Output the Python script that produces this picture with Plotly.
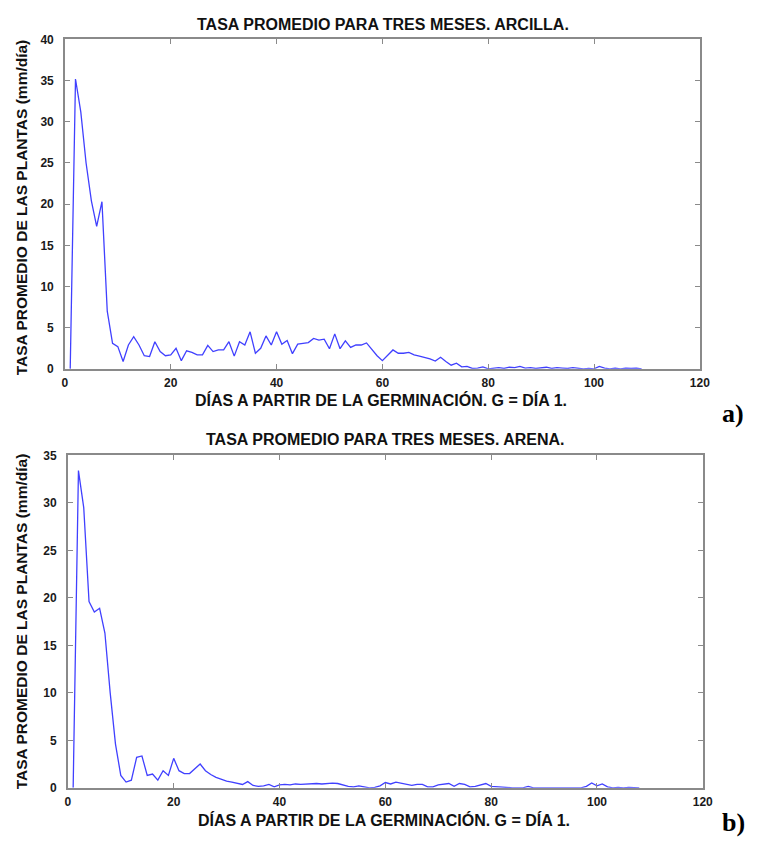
import plotly.graph_objects as go

# Daily mean growth rate (mm/día), three-month average
dias_arcilla = list(range(1, 110))
tasa_arcilla = [
    0.0, 35.2, 31.2, 25.0, 20.4, 17.3, 20.3, 7.0, 3.1, 2.7,
    0.9, 2.9, 3.9, 2.9, 1.6, 1.5, 3.3, 2.1, 1.6, 1.7,
    2.5, 1.0, 2.2, 2.0, 1.7, 1.7, 2.85, 2.1, 2.3, 2.3,
    3.3, 1.55, 3.3, 2.9, 4.5, 1.9, 2.5, 4.0, 2.9, 4.5,
    3.0, 3.45, 1.85, 3.0, 3.1, 3.2, 3.7, 3.5, 3.6, 2.45,
    4.25, 2.45, 3.4, 2.6, 2.9, 2.9, 3.15, 2.3, 1.6, 1.0,
    1.7, 2.3, 1.9, 1.9, 2.0, 1.7, 1.55, 1.4, 1.2, 0.95,
    1.4, 0.9, 0.45, 0.7, 0.25, 0.3, 0.05, 0.1, 0.25, 0.0,
    0.1, 0.15, 0.05, 0.2, 0.15, 0.3, 0.1, 0.15, 0.05, 0.1,
    0.2, 0.05, 0.15, 0.1, 0.05, 0.15, 0.1, 0.0, 0.05, 0.0,
    0.3, 0.1, 0.0, 0.1, 0.0, 0.1, 0.05, 0.1, 0.0,
]

dias_arena = list(range(1, 109))
tasa_arena = [
    0.0, 33.4, 29.5, 19.6, 18.5, 18.9, 16.3, 10.0, 4.6, 1.3,
    0.6, 0.8, 3.2, 3.35, 1.3, 1.45, 0.8, 1.8, 1.3, 3.1,
    1.8, 1.5, 1.5, 2.0, 2.5, 1.8, 1.4, 1.1, 0.9, 0.7,
    0.6, 0.45, 0.35, 0.65, 0.25, 0.15, 0.2, 0.35, 0.1, 0.3,
    0.35, 0.3, 0.4, 0.35, 0.4, 0.4, 0.45, 0.4, 0.45, 0.5,
    0.45, 0.3, 0.15, 0.1, 0.2, 0.1, 0.0, 0.05, 0.2, 0.55,
    0.4, 0.6, 0.5, 0.35, 0.25, 0.35, 0.35, 0.1, 0.1, 0.3,
    0.4, 0.45, 0.15, 0.45, 0.35, 0.1, 0.15, 0.3, 0.45, 0.15,
    0.1, 0.05, 0.05, 0.0, 0.0, 0.0, 0.15, 0.0, 0.0, 0.0,
    0.0, 0.0, 0.0, 0.0, 0.0, 0.0, 0.0, 0.15, 0.5, 0.2,
    0.4, 0.1, 0.0, 0.05, 0.0, 0.05, 0.0, 0.0,
]

x_ticks = [0, 20, 40, 60, 80, 100, 120]
y_ticks_a = [0, 5, 10, 15, 20, 25, 30, 35, 40]
y_ticks_b = [0, 5, 10, 15, 20, 25, 30, 35]

titulo_a = "TASA PROMEDIO PARA TRES MESES. ARCILLA."
titulo_b = "TASA PROMEDIO PARA TRES MESES. ARENA."
eje_x = "DÍAS A PARTIR DE LA GERMINACIÓN. G = DÍA 1."
eje_y = "TASA PROMEDIO DE LAS PLANTAS (mm/día)"

W, H = 758, 841
LINE = "#4040ff"
AXIS = "#8a8a8a"
SANS = "Liberation Sans, Arial, sans-serif"
SERIF = "Liberation Serif, Times New Roman, serif"


def px_x(p):
    return p / W


def px_y(p):
    return 1 - p / H


fig = go.Figure()
fig.add_trace(go.Scatter(x=dias_arcilla, y=tasa_arcilla, mode="lines",
                         line=dict(color=LINE, width=1.3), xaxis="x", yaxis="y",
                         showlegend=False))
fig.add_trace(go.Scatter(x=dias_arena, y=tasa_arena, mode="lines",
                         line=dict(color=LINE, width=1.3), xaxis="x2", yaxis="y2",
                         showlegend=False))

tickfont = dict(family=SANS, size=12, color="#1a1a1a", weight="bold")
common = dict(showline=True, linecolor=AXIS, linewidth=1.5, mirror="ticks",
              ticks="inside", ticklen=5, tickcolor=AXIS, tickwidth=1,
              showgrid=False, zeroline=False, tickfont=tickfont)
ycommon = dict(common, ticklabelstandoff=7)
xcommon = dict(common, ticklabelstandoff=2)

fig.update_layout(
    width=W, height=H,
    margin=dict(l=0, r=0, t=0, b=0),
    paper_bgcolor="white", plot_bgcolor="white",
    xaxis=dict(domain=[px_x(63), px_x(709)], range=[0, 120], tickvals=x_ticks,
               anchor="y", **xcommon),
    yaxis=dict(domain=[px_y(368), px_y(33)], range=[0, 40], tickvals=y_ticks_a,
               anchor="x", **ycommon),
    xaxis2=dict(domain=[px_x(66), px_x(712)], range=[0, 120], tickvals=x_ticks,
                anchor="y2", **xcommon),
    yaxis2=dict(domain=[px_y(794), px_y(456)], range=[0, 35], tickvals=y_ticks_b,
                anchor="x2", **ycommon),
)

title_font = dict(family=SANS, size=16, color="#111111")
xlabel_font = dict(family=SANS, size=16, color="#111111")
ylabel_font = dict(family=SANS, size=15.5, color="#111111")
panel_font = dict(family=SERIF, size=26, color="#000000")

annotations = [
    dict(text=f"<b>{titulo_a}</b>", x=px_x(387), y=px_y(18), font=title_font),
    dict(text=f"<b>{titulo_b}</b>", x=px_x(389), y=px_y(440), font=title_font),
    dict(text=f"<b>{eje_x}</b>", x=px_x(385), y=px_y(400), font=xlabel_font),
    dict(text=f"<b>{eje_x}</b>", x=px_x(388), y=px_y(827), font=xlabel_font),
    dict(text=f"<b>{eje_y}</b>", x=px_x(19), y=px_y(204), font=ylabel_font, textangle=-90),
    dict(text=f"<b>{eje_y}</b>", x=px_x(19), y=px_y(625), font=ylabel_font, textangle=-90),
    dict(text="<b>a)</b>", x=px_x(743), y=px_y(413), font=panel_font),
    dict(text="<b>b)</b>", x=px_x(743), y=px_y(829), font=panel_font),
]
for a in annotations:
    fig.add_annotation(xref="paper", yref="paper", showarrow=False,
                       xanchor="center", yanchor="middle", **a)

fig.write_html("out.html")
